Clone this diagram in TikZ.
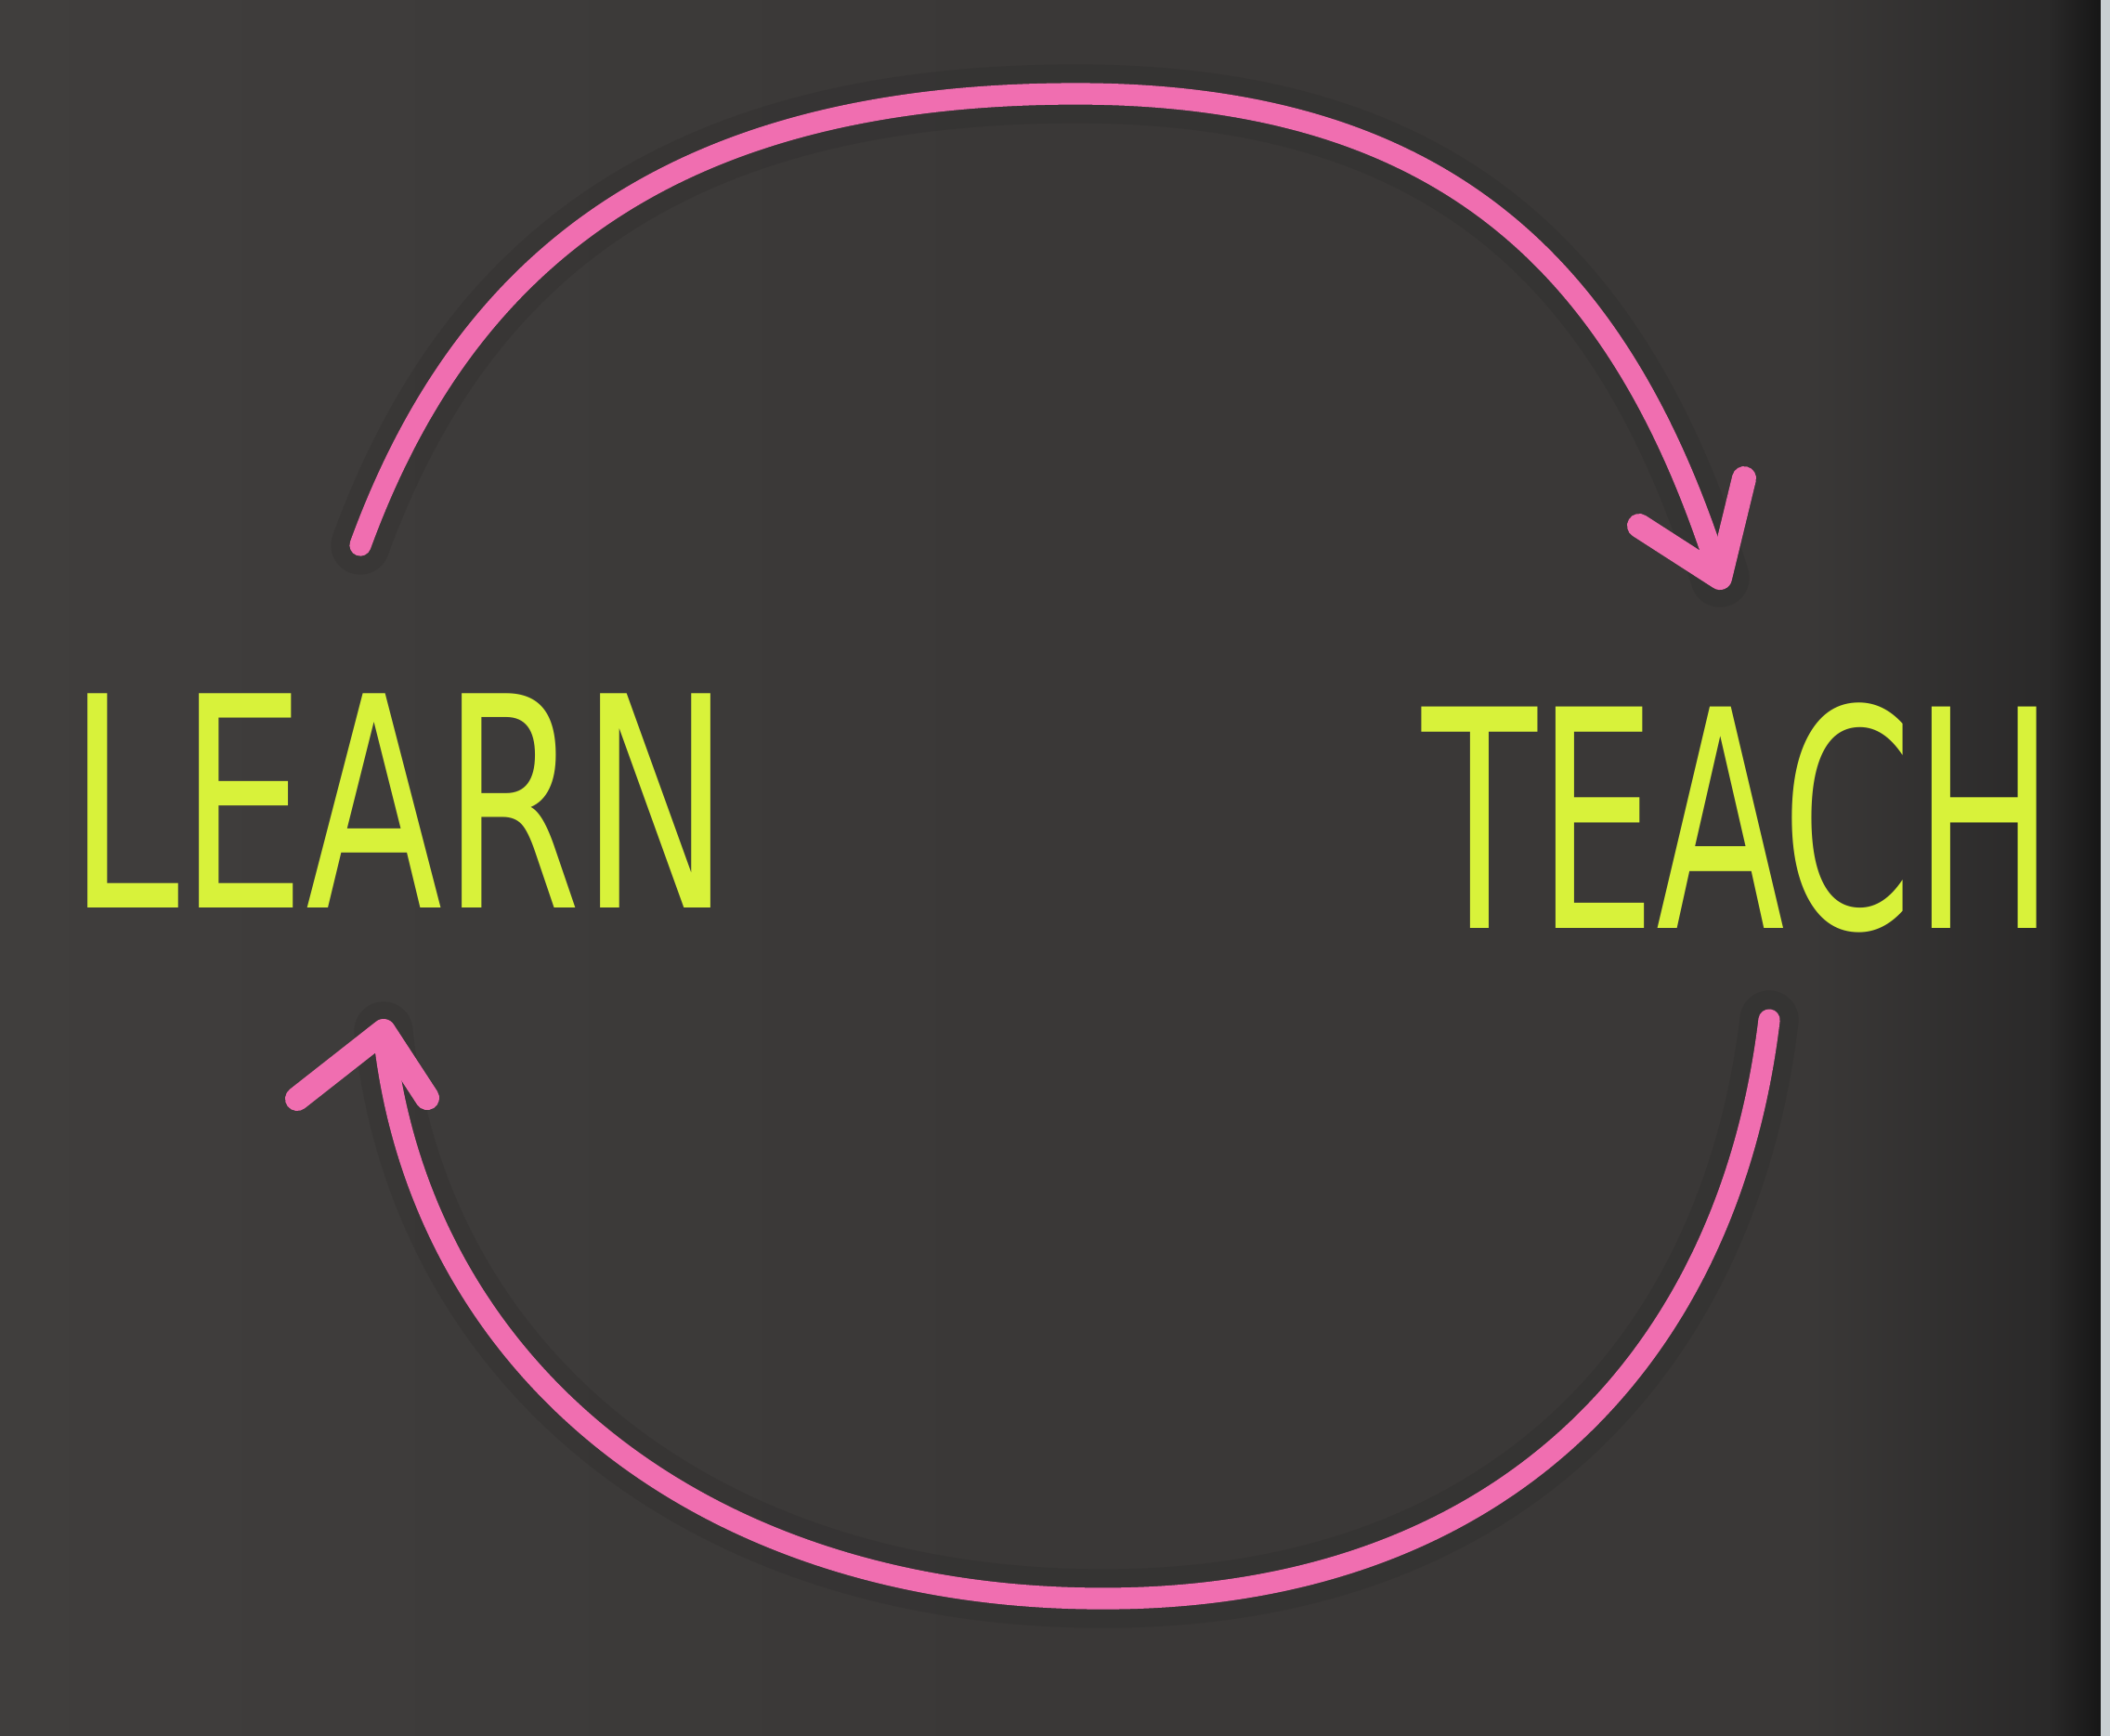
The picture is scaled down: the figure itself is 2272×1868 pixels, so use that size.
\documentclass[tikz,border=0pt]{standalone}
\usepackage{fontspec}
\setmainfont{DejaVu Sans}
\definecolor{board}{HTML}{3A3837}
\definecolor{boardL}{HTML}{403E3D}
\definecolor{boardD}{HTML}{2A2929}
\definecolor{edge}{HTML}{161616}
\definecolor{paper}{HTML}{C9CFD2}
\definecolor{marker}{HTML}{F06EB0}
\definecolor{hilite}{HTML}{D8F23A}
\tikzset{
  x=0.01cm, y=-0.01cm,
  word/.style={text=hilite, inner sep=0pt, anchor=center},
  loopline/.style={draw=marker, line width=6.6pt, line cap=round, line join=round},
  headline/.style={draw=marker, line width=7.4pt, line cap=round, line join=round},
  shadowline/.style={draw=black, opacity=0.07, line width=18pt, line cap=round, line join=round}
}
\begin{document}
\begin{tikzpicture}
\useasboundingbox (0,0) rectangle (2272,1868);
% board
\fill[board] (-20,-20) rectangle (2292,1888);
\shade[left color=boardL, right color=board] (-20,-20) rectangle (1100,1888);
\shade[left color=board, right color=boardD] (1950,-20) rectangle (2205,1888);
\shade[left color=boardD, right color=edge] (2205,-20) rectangle (2262,1888);
\fill[paper] (2262,-20) rectangle (2292,1888);

% words
\node[word] (learn) at (430,862) {\scalebox{0.68}[1]{\fontsize{90}{90}\selectfont LEARN}};
\node[word] (teach) at (1872,880) {\scalebox{0.62}[1]{\fontsize{93}{93}\selectfont TEACH}};

% connector end points
\coordinate (learnOut) at (388,587);
\coordinate (teachIn) at (1852,622);
\coordinate (teachOut) at (1905,1098);
\coordinate (learnIn) at (413,1110);
\coordinate (barbA1) at (1765,566);
\coordinate (barbA2) at (1878,515);
\coordinate (barbB1) at (320,1183);
\coordinate (barbB2) at (460,1182);

% shadows
\draw[shadowline] (learnOut) .. controls (500,280) and (725,101) .. (1159,101)
  .. controls (1565,101) and (1750,298) .. (teachIn);
\draw[shadowline] (teachOut) .. controls (1862,1456) and (1623,1721) .. (1188,1721)
  .. controls (753,1721) and (450,1470) .. (learnIn);

% top arc: learn -> teach
\draw[loopline] (learnOut) .. controls (500,280) and (725,101) .. (1159,101)
  .. controls (1565,101) and (1750,298) .. (teachIn);
\draw[headline] (barbA1) -- (teachIn) -- (barbA2);

% bottom arc: teach -> learn
\draw[loopline] (teachOut) .. controls (1862,1456) and (1623,1721) .. (1188,1721)
  .. controls (753,1721) and (450,1470) .. (learnIn);
\draw[headline] (barbB1) -- (learnIn) -- (barbB2);
\end{tikzpicture}
\end{document}
